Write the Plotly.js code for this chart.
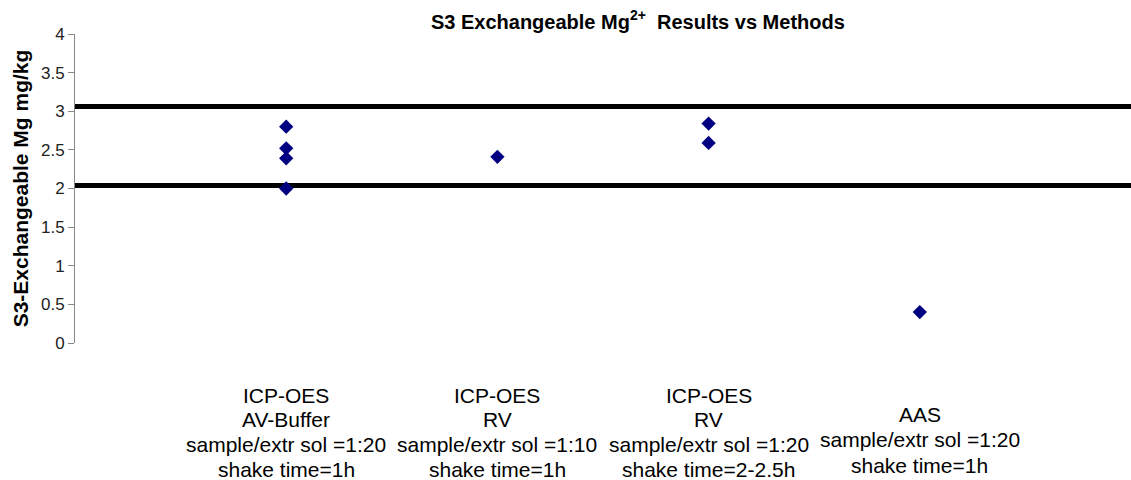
<!DOCTYPE html>
<html>
<head>
<meta charset="utf-8">
<script src="https://cdn.plot.ly/plotly-3.0.1.min.js"></script>
<style>html,body{margin:0;padding:0;background:#fff;}#chart{width:1131px;height:480px;}</style>
</head>
<body>
<div id="chart"></div>
<script>
// Method positions on the numeric x axis (0..5)
const methodX = [1, 2, 3, 4];
const methodLabels = [
  ["ICP-OES", "AV-Buffer", "sample/extr sol =1:20", "shake time=1h"],
  ["ICP-OES", "RV", "sample/extr sol =1:10", "shake time=1h"],
  ["ICP-OES", "RV", "sample/extr sol =1:20", "shake time=2-2.5h"],
  ["AAS", "sample/extr sol =1:20", "shake time=1h"]
];
// Individual results (x = method index, y = mg/kg)
const resultX = [1, 1, 1, 1, 2, 3, 3, 4];
const resultY = [2.80, 2.52, 2.39, 2.00, 2.41, 2.84, 2.59, 0.40];
// Acceptance limits
const limitX = [0, 5];
const upperLimit = [3.06, 3.06];
const lowerLimit = [2.04, 2.04];

const traces = [
  {x: limitX, y: upperLimit, mode: 'lines', line: {color: '#000', width: 5}, hoverinfo: 'skip', showlegend: false},
  {x: limitX, y: lowerLimit, mode: 'lines', line: {color: '#000', width: 5}, hoverinfo: 'skip', showlegend: false},
  {x: resultX, y: resultY, mode: 'markers', marker: {symbol: 'diamond', color: '#000080', size: 11}, showlegend: false}
];

// Plot area spans pixels 34..343 vertically
const plotTop = 34, plotBottom = 343;
const toPaper = p => (plotBottom - p) / (plotBottom - plotTop);
const firstLinePx = [395, 395, 395, 414];
const linePitch = [24.8, 24.8, 24.8, 25.5];
const annotations = [];
methodLabels.forEach((lines, i) => {
  lines.forEach((t, k) => {
    annotations.push({
      x: methodX[i], xref: 'x', y: toPaper(firstLinePx[i] + k * linePitch[i]), yref: 'paper',
      text: t, showarrow: false, xanchor: 'center', yanchor: 'middle', align: 'center',
      font: {family: '"Liberation Sans", Arial, sans-serif', size: 21, color: '#000'}
    });
  });
});

const layout = {
  width: 1131, height: 480,
  margin: {l: 75, r: 0, t: 34, b: 137, pad: 0},
  paper_bgcolor: '#fff', plot_bgcolor: '#fff',
  font: {family: '"Liberation Sans", Arial, sans-serif', color: '#000'},
  title: {
    text: '<b>S3 Exchangeable Mg<sup>2+</sup>  Results vs Methods</b>',
    font: {size: 20, color: '#000'},
    x: 0.564, xanchor: 'center', y: 0.955, yanchor: 'middle'
  },
  xaxis: {range: [0, 5], showticklabels: false, showgrid: false, zeroline: false, showline: false, ticks: ''},
  yaxis: {
    range: [0, 4], dtick: 0.5, showgrid: false, zeroline: false,
    showline: true, linecolor: '#888', linewidth: 1,
    ticks: 'outside', ticklen: 6, tickcolor: '#888',
    tickfont: {size: 17, color: '#222'},
    title: {text: '<b>S3-Exchangeable Mg mg/kg</b>', font: {size: 21, color: '#000'}, standoff: 6}
  },
  annotations: annotations
};

Plotly.newPlot('chart', traces, layout, {displayModeBar: false, staticPlot: true});
</script>
</body>
</html>
